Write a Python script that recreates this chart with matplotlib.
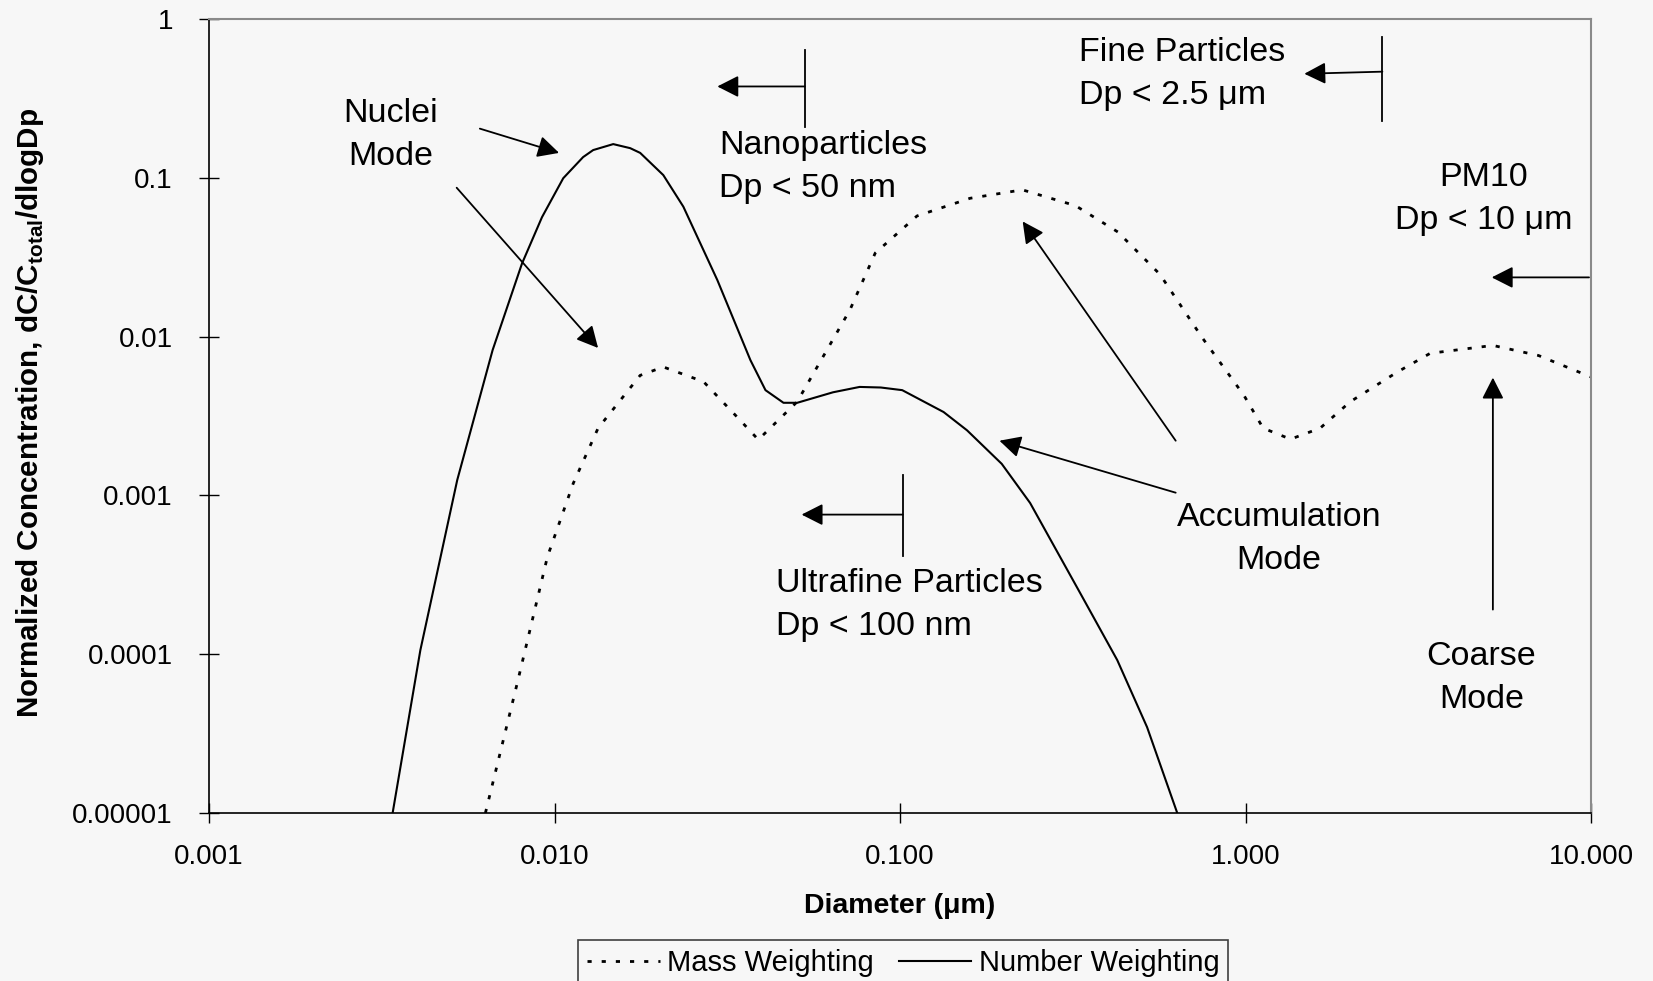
import matplotlib
matplotlib.use("Agg")
import matplotlib.pyplot as plt

# ---------------- data ----------------
number_d = [0.0034, 0.00409, 0.00523, 0.00662, 0.00805, 0.0092, 0.0106, 0.0121, 0.01294,
            0.01479, 0.01656, 0.0177, 0.02065, 0.0236, 0.0296, 0.0369, 0.0408, 0.046, 0.0504,
            0.0640, 0.0764, 0.088, 0.1015, 0.1337, 0.1563, 0.197, 0.238, 0.3325, 0.4254,
            0.519, 0.6345]
number_c = [1e-5, 1.06e-4, 1.25e-3, 8.22e-3, 0.0288, 0.0565, 0.0994, 0.135, 0.1495,
            0.163, 0.1537, 0.1435, 0.104, 0.0658, 0.0227, 0.00711, 0.0046, 0.00383, 0.00383,
            0.00446, 0.00482, 0.00478, 0.0046, 0.00335, 0.00257, 0.00158, 8.96e-4, 2.42e-4,
            9.18e-5, 3.47e-5, 1e-5]

mass_d = [0.00631, 0.0078, 0.00954, 0.01133, 0.01337, 0.0177, 0.02065, 0.027, 0.0338,
          0.0389, 0.0504, 0.0716, 0.0848, 0.112, 0.1595, 0.226, 0.322, 0.427, 0.565,
          0.748, 0.99, 1.125, 1.35, 1.644, 2.01, 2.746, 3.425, 5.2, 7.05, 10.0]
mass_c = [1e-5, 6.56e-5, 4.11e-4, 1.19e-3, 2.65e-3, 5.7e-3, 6.44e-3, 5.2e-3, 3.11e-3,
          2.243e-3, 3.89e-3, 0.0147, 0.0336, 0.0575, 0.0743, 0.084, 0.0668, 0.0456, 0.0247,
          0.0099, 0.00426, 0.00265, 0.00226, 0.00265, 0.00389, 0.00597, 0.00785, 0.0088, 0.0076, 0.00557]

x_ticks = [0.001, 0.01, 0.1, 1, 10]
x_tick_labels = ["0.001", "0.010", "0.100", "1.000", "10.000"]
y_ticks = [1e-5, 1e-4, 1e-3, 1e-2, 1e-1, 1]
y_tick_labels = ["0.00001", "0.0001", "0.001", "0.01", "0.1", "1"]

series_labels = ["Mass Weighting", "Number Weighting"]

# ---------------- style ----------------
plt.rcParams['font.family'] = ['Liberation Sans', 'DejaVu Sans']
plt.rcParams['mathtext.fontset'] = 'custom'
plt.rcParams['mathtext.rm'] = 'Liberation Sans'
plt.rcParams['mathtext.bf'] = 'Liberation Sans:bold'
BG = '#f7f7f7'

fig = plt.figure(figsize=(16.53, 9.81), dpi=100, facecolor=BG)
ax = fig.add_axes([209/1653, 1 - 813/981, (1591-209)/1653, (813-19)/981], facecolor=BG)

ax.set_xscale('log')
ax.set_yscale('log')
ax.set_xlim(0.001, 10)
ax.set_ylim(1e-5, 1)

l_mass, = ax.plot(mass_d, mass_c, color='black', lw=2.0, linestyle=(0, (1.5, 3.6)),
                  label=series_labels[0])
l_num, = ax.plot(number_d, number_c, color='black', lw=1.5, label=series_labels[1])

ax.set_xticks(x_ticks)
ax.set_xticklabels(x_tick_labels)
ax.set_yticks(y_ticks)
ax.set_yticklabels(y_tick_labels)
ax.minorticks_off()
ax.tick_params(axis='both', direction='inout', length=14, width=1.0, labelsize=20, colors='black')
ax.tick_params(axis='y', pad=19)
ax.tick_params(axis='x', pad=15)

for s in ['left', 'bottom']:
    ax.spines[s].set_color('black')
    ax.spines[s].set_linewidth(1.2)
for s in ['top', 'right']:
    ax.spines[s].set_color('#8a8a8a')
    ax.spines[s].set_linewidth(1.5)

ax.set_xlabel('Diameter (μm)', fontsize=20.5, fontweight='bold')
ax.xaxis.set_label_coords(0.5, -0.101)
ax.set_ylabel('Normalized Concentration, dC/C$_{\\mathbf{total}}$/dlogDp', fontsize=21.3, fontweight='bold')
ax.yaxis.set_label_coords(-0.118, 0.504)

# ---------------- annotations ----------------
TFS = 24.5
LS = 1.5
ax.text(0.00335, 0.186, 'Nuclei\nMode', fontsize=TFS, ha='center', va='center', multialignment='center', linespacing=LS)
ax.text(0.02997, 0.1176, 'Nanoparticles\nDp < 50 nm', fontsize=TFS, ha='left', va='center', linespacing=LS)
ax.text(0.3289, 0.4515, 'Fine Particles\nDp < 2.5 μm', fontsize=TFS, ha='left', va='center', linespacing=LS)
ax.text(4.885, 0.0732, 'PM10\nDp < 10 μm', fontsize=TFS, ha='center', va='center', multialignment='center', linespacing=LS)
ax.text(0.0438, 2.03e-4, 'Ultrafine Particles\nDp < 100 nm', fontsize=TFS, ha='left', va='center', linespacing=LS)
ax.text(1.25, 5.32e-4, 'Accumulation\nMode', fontsize=TFS, ha='center', va='center', multialignment='center', linespacing=LS)
ax.text(4.82, 7.08e-5, 'Coarse\nMode', fontsize=TFS, ha='center', va='center', multialignment='center', linespacing=LS)

AP = dict(arrowstyle='-|>,head_length=0.65,head_width=0.33', mutation_scale=20,
          color='black', lw=1.3, shrinkA=0, shrinkB=0)

def arrow(x0, y0, x1, y1):
    ax.annotate('', xy=(x1, y1), xytext=(x0, y0), arrowprops=AP, annotation_clip=False)

# nuclei mode arrows
arrow(0.00608, 0.204, 0.01031, 0.1435)
arrow(0.00521, 0.0866, 0.01337, 0.00848)
# nanoparticles bracket
ax.plot([0.053, 0.053], [0.642, 0.210], color='black', lw=1.3)
arrow(0.053, 0.376, 0.0296, 0.376)
# fine particles bracket
ax.plot([2.49, 2.49], [0.771, 0.227], color='black', lw=1.3)
arrow(2.49, 0.466, 1.48, 0.452)
# PM10 arrow
arrow(9.87, 0.0236, 5.16, 0.0236)
# ultrafine bracket
ax.plot([0.1018, 0.1018], [0.00135, 0.000417], color='black', lw=1.3)
arrow(0.1018, 0.000757, 0.0519, 0.000757)
# accumulation arrows
arrow(0.628, 0.00221, 0.2265, 0.0531)
arrow(0.628, 0.00104, 0.194, 0.00221)
# coarse arrow
arrow(5.2, 0.000191, 5.2, 0.00552)

# ---------------- legend ----------------
leg = fig.legend(handles=[l_mass, l_num], labels=series_labels, loc='upper left',
                 bbox_to_anchor=(578/1653, 1 - 940/981), ncol=2, fontsize=21,
                 frameon=True, fancybox=False, edgecolor='#404040', facecolor=BG,
                 framealpha=1, handlelength=2.5, handletextpad=0.25, columnspacing=0.85,
                 borderpad=0.3, borderaxespad=0)
leg.get_frame().set_linewidth(1.2)

fig.savefig('out.png', dpi=100, facecolor=BG)
